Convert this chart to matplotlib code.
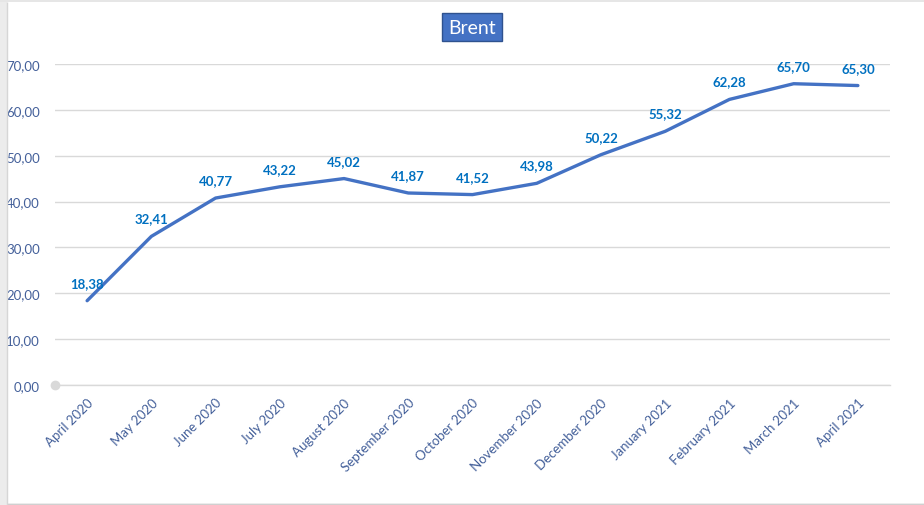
import numpy as np
import matplotlib
matplotlib.use('Agg')
import matplotlib.pyplot as plt
from matplotlib.patches import Rectangle

months = ['April 2020', 'May 2020', 'June 2020', 'July 2020', 'August 2020',
          'September 2020', 'October 2020', 'November 2020', 'December 2020',
          'January 2021', 'February 2021', 'March 2021', 'April 2021']
brent = [18.38, 32.41, 40.77, 43.22, 45.02, 41.87, 41.52, 43.98, 50.22,
         55.32, 62.28, 65.70, 65.30]
y_ticks = [0, 10, 20, 30, 40, 50, 60, 70]

plt.rcParams['font.family'] = ['Lato', 'DejaVu Sans']

W, H = 924, 506
fig = plt.figure(figsize=(W / 100, H / 100), dpi=100)
fig.patch.set_facecolor('white')

# window frame around the chart
fig.patches.append(Rectangle((0, 0), 7 / W, 1, transform=fig.transFigure,
                             facecolor='#ececec', edgecolor='none', zorder=0))
fig.patches.append(Rectangle((0, 1 - 3 / H), 1, 3 / H, transform=fig.transFigure,
                             facecolor='#e6e6e6', edgecolor='none', zorder=0))
fig.patches.append(Rectangle((7 / W, 1.5 / H), 1, 0, transform=fig.transFigure,
                             facecolor='none', edgecolor='#d0d0d0', lw=1, zorder=0))
fig.patches.append(Rectangle((7 / W, 0), 0, 1 - 3 / H, transform=fig.transFigure,
                             facecolor='none', edgecolor='#d6d6d6', lw=1, zorder=0))

left, right, top, bottom = 55, 890, 65, 386
ax = fig.add_axes([left / W, 1 - bottom / H, (right - left) / W, (bottom - top) / H])
x = np.arange(len(months))
ax.plot(x, brent, color='#4472C4', linewidth=2.4, solid_capstyle='round', zorder=3)
ax.axhline(0, color='#d9d9d9', linewidth=1, clip_on=False, zorder=1)
ax.plot([-0.5], [0], 'o', color='#d9d9d9', markersize=6, clip_on=False, zorder=4)

for i, v in enumerate(brent):
    ax.text(i, v + 3.9, f'{v:.2f}'.replace('.', ','), ha='center', va='center',
            fontsize=9.5, fontweight='bold', color='#0070C0')

ax.set_xlim(-0.5, len(months) - 0.5)
ax.set_ylim(0, 70)
ax.set_yticks(y_ticks)
ax.set_yticklabels([f'{t:.2f}'.replace('.', ',') for t in y_ticks])
ax.set_xticks(x)
ax.set_xticklabels(months, rotation=45, ha='right', rotation_mode='anchor')
ax.tick_params(axis='both', length=0, labelsize=9.5, labelcolor='#44609a')
ax.tick_params(axis='y', pad=11)
ax.tick_params(axis='x', pad=8)
ax.grid(axis='y', color='#d9d9d9', linewidth=1)
ax.set_axisbelow(True)
for s in ax.spines.values():
    s.set_visible(False)

fig.text(472 / W, 1 - 28 / H, 'Brent', ha='center', va='center', fontsize=14,
         color='white',
         bbox=dict(boxstyle='square,pad=0.3', facecolor='#4472C4', edgecolor='#2f528f', lw=1))

fig.savefig('out.png', dpi=100)
